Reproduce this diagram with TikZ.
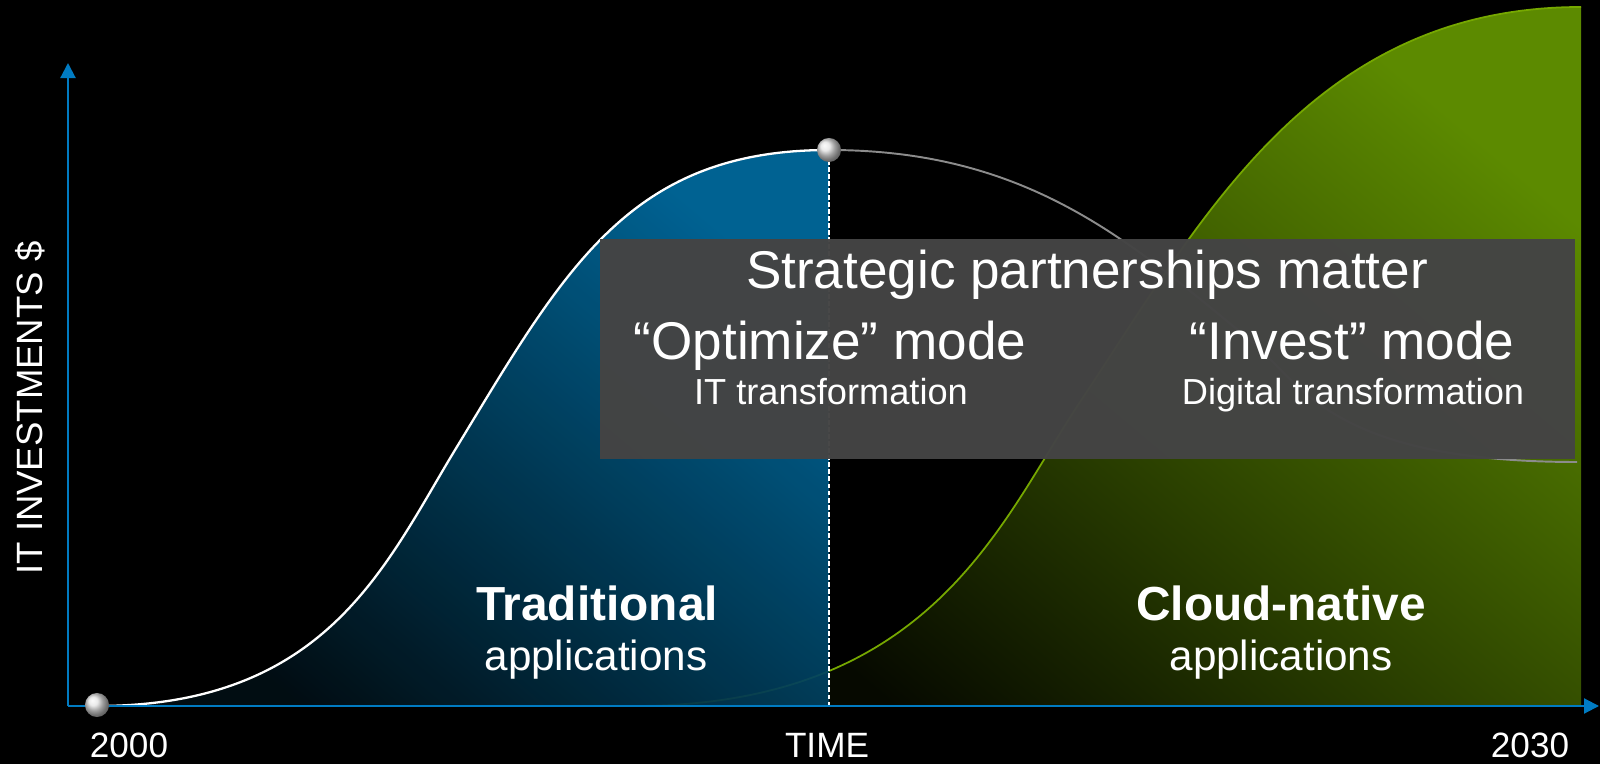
\documentclass[tikz,border=0pt]{standalone}
\usepackage{fontspec}
\setmainfont{Liberation Sans}
\usetikzlibrary{arrows.meta}
\definecolor{axisblue}{RGB}{0,123,194}
\definecolor{blueTop}{RGB}{0,106,158}
\definecolor{blueMid}{RGB}{0,62,95}
\definecolor{blueBot}{RGB}{2,14,20}
\definecolor{greenTop}{RGB}{92,138,0}
\definecolor{greenMid}{RGB}{50,76,0}
\definecolor{greenBot}{RGB}{6,9,0}
\definecolor{greenLine}{RGB}{118,168,0}
\definecolor{greyLine}{RGB}{140,140,140}
\definecolor{boxgrey}{RGB}{68,68,68}
\begin{document}
\begin{tikzpicture}[x=0.01cm,y=-0.01cm,
  axisline/.style={draw=axisblue, line width=0.6pt, -{Triangle[length=0.15cm,width=0.15cm]}},
  lbl/.style={text=white, inner sep=0pt, anchor=base},
  big/.style={lbl, font=\fontsize{15.1pt}{18pt}\selectfont},
  small/.style={lbl, font=\fontsize{10.3pt}{12pt}\selectfont},
  axislbl/.style={lbl, font=\fontsize{10pt}{12pt}\selectfont},
  boldlbl/.style={lbl, font=\fontsize{13.6pt}{16pt}\selectfont\bfseries},
  applbl/.style={lbl, font=\fontsize{12pt}{14pt}\selectfont},
  sphere/.style={circle, inner sep=0pt, minimum size=0.24cm, ball color=gray!22!white}
]
\fill[black] (0,0) rectangle (1600,764);
\useasboundingbox (0,0) rectangle (1600,764);

% named points
\coordinate (origin) at (68,706);
\coordinate (ytop) at (68,63);
\coordinate (xend) at (1599,706);
\coordinate (peak) at (829,150);
\coordinate (peakfoot) at (829,706);
\coordinate (start) at (97,706);
\coordinate (gstart) at (633,706);
\coordinate (gtop) at (1581,7);
\coordinate (gfoot) at (1581,706);
\coordinate (gend) at (1577,462);

% green area
\shade[top color=greenTop, middle color=greenMid, bottom color=greenBot, shading angle=-40]
  (gstart) .. controls (933,706) and (1000,522) .. (1080,402)
  .. controls (1200,222) and (1311,7) .. (gtop) -- (gfoot) -- cycle;
\draw[greenLine, line width=0.5pt]
  (gstart) .. controls (933,706) and (1000,522) .. (1080,402)
  .. controls (1200,222) and (1311,7) .. (gtop);

% blue area
\shade[top color=blueTop, middle color=blueMid, bottom color=blueBot, shading angle=-40, opacity=0.93]
  (start) .. controls (327,706) and (385,565.5) .. (455,450)
  .. controls (565,268.5) and (629,150) .. (peak) -- (peakfoot) -- cycle;
\draw[white, line width=0.65pt]
  (start) .. controls (327,706) and (385,565.5) .. (455,450)
  .. controls (565,268.5) and (629,150) .. (peak);

% grey decline curve
\draw[greyLine, line width=0.55pt]
  (peak) .. controls (1029,150) and (1130,241.6) .. (1250,340)
  .. controls (1300,381) and (1327,462) .. (gend);

% dashed drop line
\draw[white, line width=0.5pt, dash pattern=on 1.4pt off 0.6pt] (829,160) -- (peakfoot);

% box
\node[fill=boxgrey, fill opacity=0.975, minimum width=9.75cm, minimum height=2.2cm, inner sep=0pt] (box) at (1087.5,349) {};
\node[big] (title) at (1087,289) {Strategic partnerships matter};
\node[big] (optimize) at (830,360) {“Optimize” mode};
\node[big] (invest) at (1352,360) {“Invest” mode};
\node[small] (ittrans) at (831,405) {IT transformation};
\node[small] (digital) at (1353,405) {Digital transformation};

% area labels
\node[boldlbl] (trad) at (597,620) {Traditional};
\node[applbl] (app1) at (596,670) {applications};
\node[boldlbl] (cloud) at (1281,620) {Cloud-native};
\node[applbl] (app2) at (1281,670) {applications};

% axes
\draw[axisline] (origin) -- (ytop);
\draw[axisline] (origin) -- (xend);

\node[axislbl] (y2000) at (129,757) {2000};
\node[axislbl] (time) at (827,757) {TIME};
\node[axislbl] (y2030) at (1530,757) {2030};
\node[lbl, font=\fontsize{10.4pt}{12pt}\selectfont, rotate=90] (ylabel) at (42,408) {IT INVESTMENTS \$};

% spheres
\node[sphere] (startball) at (97,705) {};
\node[sphere] (peakball) at (peak) {};
\end{tikzpicture}
\end{document}
